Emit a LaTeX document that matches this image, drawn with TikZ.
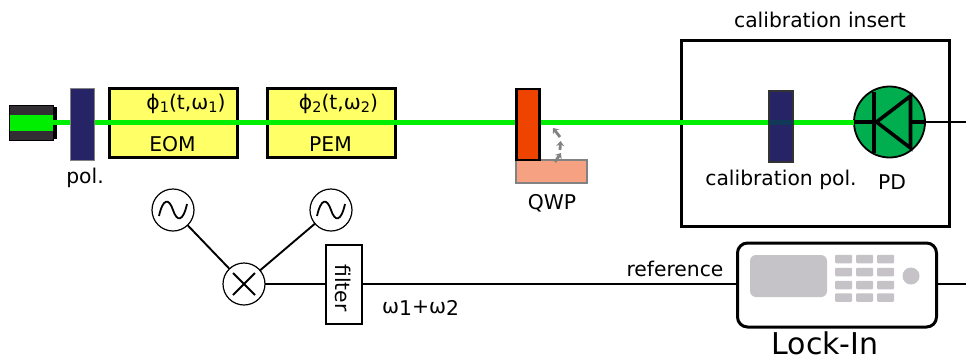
\documentclass[tikz,border=0pt]{standalone}
\usepackage{fontspec}
\setmainfont{DejaVu Sans}
\usepackage{tikz}
\usetikzlibrary{arrows.meta,calc}
\definecolor{beamgreen}{RGB}{0,238,0}
\definecolor{polnavy}{RGB}{38,36,102}
\definecolor{modyellow}{RGB}{255,255,102}
\definecolor{wporange}{RGB}{238,68,0}
\definecolor{wpsalmon}{RGB}{246,162,130}
\definecolor{pdgreen}{RGB}{0,174,80}
\definecolor{casedark}{RGB}{50,46,52}
\definecolor{panelgray}{RGB}{197,195,200}
\definecolor{rimgray}{RGB}{130,130,130}
\newcommand{\lowdigit}[1]{\raisebox{-3pt}{\fontsize{14.5}{14.5}\selectfont #1}}

\begin{document}
\begin{tikzpicture}[x=1pt, y=-1pt,
  box/.style={rectangle, inner sep=0pt, outer sep=0pt},
  pol/.style={box, minimum width=24pt, minimum height=71pt, fill=polnavy},
  mod/.style={box, draw=black, line width=3pt, fill=modyellow, minimum width=128pt, minimum height=69.5pt},
  lbl/.style={font=\fontsize{20.3}{24}\selectfont, inner sep=0pt},
  osc/.style={circle, draw=black, line width=1.2pt, fill=white, minimum size=42pt, inner sep=0pt, outer sep=0pt},
  wire/.style={line width=1.9pt, black},
  btn/.style={box, fill=panelgray, rounded corners=1pt, minimum width=17pt, minimum height=8.5pt},
  rot/.style={-{Stealth[length=5pt,width=8pt]}, line width=2.8pt, rimgray},
]
\useasboundingbox (0,0) rectangle (966,357);

% ============ calibration insert ============
\node[box, draw=black, line width=3pt, minimum width=268pt, minimum height=186pt] (insert) at (815,133) {};
\node[lbl] (inserttxt) at (820,20) {calibration insert};

% ============ modulators ============
\node[mod] (eom) at (173.2,122.8) {};
\node[mod] (pem) at (331.2,122.8) {};
\node[lbl] (phia) at (186,104) {ϕ\lowdigit{1}(t,ω\lowdigit{1})};
\node[lbl] (phib) at (338.5,104) {ϕ\lowdigit{2}(t,ω\lowdigit{2})};
\node[lbl] (eomtxt) at (172.5,144.5) {EOM};
\node[lbl] (pemtxt) at (330.5,144.5) {PEM};

% ============ laser and beam ============
\node[box, fill=black, minimum width=6pt, minimum height=32pt] (stub) at (54,123) {};
\node[box, fill=casedark, draw=black, line width=0.6pt, minimum width=44pt, minimum height=35pt] (laser) at (31.5,123) {};
\node[box, fill=beamgreen, minimum width=43pt, minimum height=16pt] (lasercore) at (31.5,123) {};
\node[circle, draw=black, line width=1.8pt, fill=pdgreen, minimum size=71pt, inner sep=0pt, outer sep=0pt] (pd) at (889.5,122) {};
\draw[line width=5pt, beamgreen] (lasercore.east |- 0,122) -- (pd.west);

% ============ polarizers, waveplate ============
\node[pol, draw=rimgray, line width=1pt, minimum height=72pt] (pola) at (82,124) {};
\node[lbl] (polatxt) at (85,178) {pol.};
\node[box, draw=rimgray, line width=2pt, fill=wpsalmon, minimum width=71pt, minimum height=23pt] (qwpbase) at (551.5,171.5) {};
\node[box, draw=black, line width=2.2pt, fill=wporange, minimum width=23pt, minimum height=71pt] (qwp) at (528,124.5) {};
\node[lbl] (qwptxt) at (552,203) {QWP};
\foreach \xa/\ya/\xb/\yb in {555/162/561/153, 560/150/560.5/141, 560/137/553/128}
  \draw[rot] (\xa,\ya) -- (\xb,\yb);
\node[pol, draw=black!80, line width=1.4pt] (polb) at (781,126.5) {};
\draw[line width=5pt, teal!60!black, opacity=0.55] (polb.west |- pd) -- (polb.east |- pd);
\node[lbl] (polbtxt) at (781,180) {calibration pol.};
\node[lbl] (pdtxt) at (892,182) {PD};

% diode symbol
\draw[line width=3.4pt] (pd.west) -- (pd.east);
\draw[line width=3.6pt] ($(pd)+(-15.5,-30)$) -- ($(pd)+(-15.5,31)$);
\draw[line width=3.6pt, line join=miter, fill=pdgreen] ($(pd)+(-13,0)$) -- ($(pd)+(21,-26)$) -- ($(pd)+(21,26)$) -- cycle;
\coordinate (pdout) at (966,122);
\draw[wire] (pd.east) -- (pdout);

% ============ reference chain ============
\node[osc] (osca) at (173,210) {};
\node[osc] (oscb) at (331,210) {};
\node[osc] (mix) at (244,284) {};
\node[box, draw=black, line width=1.4pt, fill=white, minimum width=36pt, minimum height=79pt] (filter) at (344,284.5) {};
\node[lbl, rotate=-90] (filtertxt) at (343.5,288) {filter};
\foreach \osc in {osca,oscb}
  \draw[line width=1.8pt] ($(\osc)+(-14,6)$) .. controls ($(\osc)+(-10,-12)$) and ($(\osc)+(-4,-12)$) .. (\osc.center)
    .. controls ($(\osc)+(4,12)$) and ($(\osc)+(10,12)$) .. ($(\osc)+(14,-6)$);
\draw[line width=1.8pt] ($(mix)+(-11,-11)$) -- ($(mix)+(11,11)$);
\draw[line width=1.8pt] ($(mix)+(-11,11)$) -- ($(mix)+(11,-11)$);
\draw[wire] (osca) -- (mix);
\draw[wire] (oscb) -- (mix);
\draw[wire] (mix) -- (mix -| filter.west);
\node[lbl] (sumtxt) at (420.5,308) {ω\raisebox{-2pt}{1}+ω\raisebox{-2pt}{2}};
\node[lbl] (reftxt) at (675,269) {reference};

% ============ lock-in ============
\node[box, draw=black, line width=3pt, rounded corners=10pt, fill=white, minimum width=199pt, minimum height=84pt] (lockin) at (837,285) {};
\node[box, fill=panelgray, rounded corners=6pt, minimum width=77pt, minimum height=42pt] (screen) at (788.5,276) {};
\foreach \bx in {843.5,864.5,885.5}
  \foreach \by in {259,272,285,297.5}
    \node[btn] at (\bx,\by) {};
\node[circle, fill=panelgray, minimum size=17pt, inner sep=0pt] (knob) at (911,276) {};
\node[font=\fontsize{30}{34}\selectfont, inner sep=0pt] (lockintxt) at (825,343.5) {Lock-In};
\coordinate (lockout) at (966,284);
\draw[wire] (mix -| filter.east) -- (mix -| lockin.west);
\draw[wire] (lockin.east |- lockout) -- (lockout);
\end{tikzpicture}
\end{document}
